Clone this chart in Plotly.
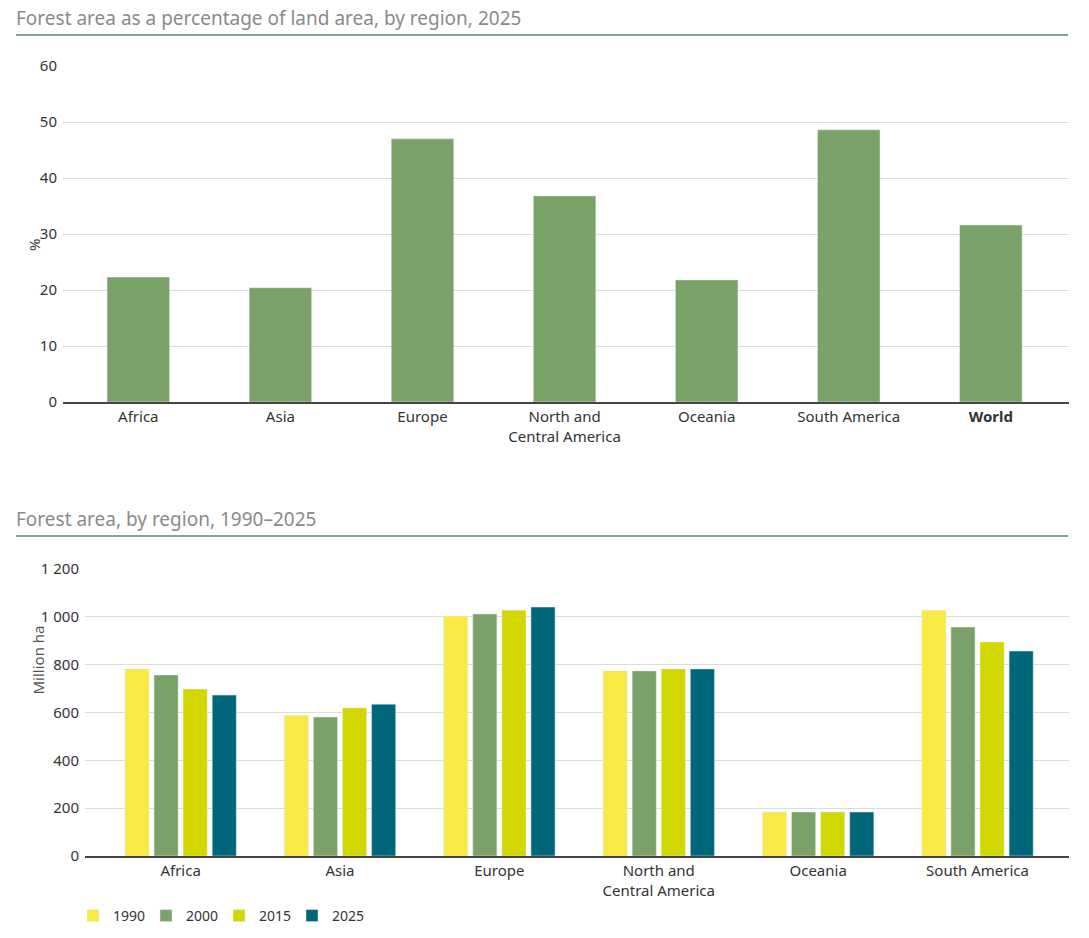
import plotly.graph_objects as go

# ---- data ----
regions_pct = ["Africa", "Asia", "Europe", "North and<br>Central America", "Oceania", "South America", "<b>World</b>"]
pct_2025 = [22.3, 20.4, 47.0, 36.8, 21.8, 48.6, 31.6]

regions_area = ["Africa", "Asia", "Europe", "North and<br>Central America", "Oceania", "South America"]
years = ["1990", "2000", "2015", "2025"]
area_1990 = [782, 589, 1003, 774, 184, 1028]
area_2000 = [757, 581, 1012, 774, 184, 957]
area_2015 = [698, 619, 1028, 782, 184, 895]
area_2025 = [673, 635, 1041, 782, 184, 857]
year_colors = ["#F8E945", "#7AA268", "#D2D700", "#00677A"]

# body margin is removed by the post script, so the figure fills the window
W, H = 1089, 938
def py(p):
    return 1 - p / H
def px_(x):
    return x / W

FONT = "Noto Sans"
fig = go.Figure()

fig.add_trace(go.Bar(x=list(range(len(regions_pct))), y=pct_2025, marker_color="#7AA268",
                     width=0.44, showlegend=False, xaxis="x", yaxis="y"))

series = [area_1990, area_2000, area_2015, area_2025]
for name, vals, col in zip(years, series, year_colors):
    fig.add_trace(go.Bar(x=list(range(len(regions_area))), y=vals, name=name, marker_color=col,
                         xaxis="x2", yaxis="y2"))

axis_common = dict(showgrid=False, zeroline=False, ticks="", showline=True, linecolor="#444",
                   linewidth=2, automargin=False, tickfont=dict(family=FONT, size=15, color="#333"))
yaxis_common = dict(showgrid=True, gridcolor="#DCDCDC", gridwidth=1, zeroline=False, showline=False,
                    automargin=False, ticks="", tickfont=dict(family=FONT, size=15, color="#333"),
                    ticklabelstandoff=5)

fig.update_layout(
    width=W, height=H, margin=dict(l=0, r=0, t=0, b=0, autoexpand=False),
    plot_bgcolor="white", paper_bgcolor="white",
    barmode="group", bargap=0.27, bargroupgap=0.17,
    font=dict(family=FONT, color="#333"),
    xaxis=dict(axis_common, domain=[px_(63), px_(1069)], anchor="y",
               tickmode="array", tickvals=list(range(len(regions_pct))), ticktext=regions_pct,
               range=[-0.53, 6.55]),
    yaxis=dict(yaxis_common, domain=[py(402), py(66)], anchor="x", range=[0, 60], dtick=10),
    xaxis2=dict(axis_common, domain=[px_(85), px_(1069)], anchor="y2",
                tickmode="array", tickvals=list(range(len(regions_area))), ticktext=regions_area,
                range=[-0.6, 5.574]),
    yaxis2=dict(yaxis_common, domain=[py(856), py(569)], anchor="x2", range=[0, 1200],
                tickvals=[0, 200, 400, 600, 800, 1000, 1200],
                ticktext=["0", "200", "400", "600", "800", "1 000", "1 200"]),
    legend=dict(orientation="h", x=px_(73), y=py(916), xanchor="left", yanchor="middle",
                font=dict(family=FONT, size=14, color="#333"), entrywidth=28, entrywidthmode="pixels",
                itemwidth=30, traceorder="normal", bgcolor="rgba(0,0,0,0)"),
)

# titles
for text, ty, ly in [("Forest area as a percentage of land area, by region, 2025", 18, 35),
                     ("Forest area, by region, 1990\u20132025", 519, 536)]:
    fig.add_annotation(text=text, x=px_(14), y=py(ty), xref="paper", yref="paper", xanchor="left",
                       yanchor="middle", showarrow=False, font=dict(family=FONT, size=19, color="#8A8A8A"))
    fig.add_shape(type="line", x0=px_(16), x1=px_(1068), y0=py(ly), y1=py(ly), xref="paper", yref="paper",
                  line=dict(color="#7FA898", width=2))

fig.add_annotation(text="%", x=px_(22), y=py(237), xref="paper", yref="paper", textangle=-90,
                   showarrow=False, font=dict(family=FONT, size=15, color="#333"))
fig.add_annotation(text="Million ha", x=px_(25), y=py(697), xref="paper", yref="paper", textangle=-90,
                   showarrow=False, font=dict(family=FONT, size=15, color="#555"))

fig.write_html("out.html", config={"displayModeBar": False},
               post_script="document.body.style.margin='0';document.body.style.overflow='hidden';")
